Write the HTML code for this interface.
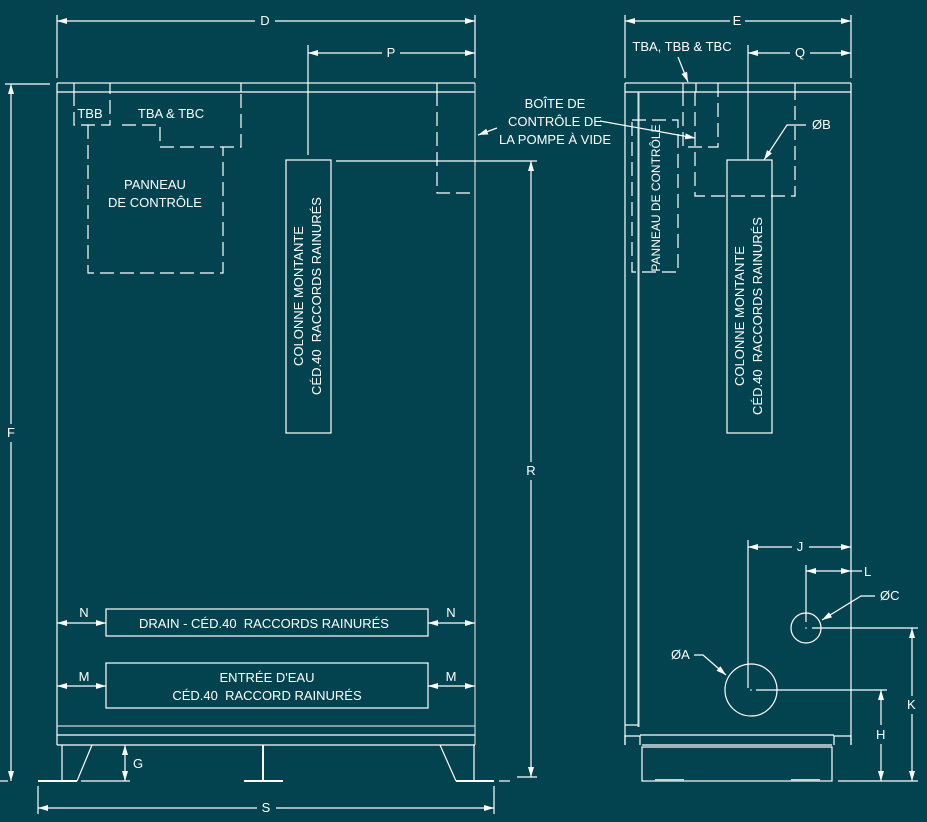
<!DOCTYPE html>
<html><head><meta charset="utf-8"><style>
html,body{margin:0;padding:0;background:#03434f;}
svg{display:block;}
text{font-family:"Liberation Sans",sans-serif;font-size:13px;fill:#fff;white-space:pre;}
</style></head><body>
<svg width="927" height="822" viewBox="0 0 927 822" xmlns="http://www.w3.org/2000/svg" xml:space="preserve">
<defs>
<marker id="a" viewBox="0 0 10 6" refX="10" refY="3" markerWidth="10" markerHeight="6" orient="auto-start-reverse" markerUnits="userSpaceOnUse"><path d="M0,0L10,3L0,6z" fill="#fff"/></marker>
</defs>
<rect width="927" height="822" fill="#03434f"/>
<g stroke="#fff" stroke-width="1.2" fill="none">
<line x1="57" y1="83" x2="475" y2="83" stroke="#c8d4d6" stroke-width="1.5"/>
<line x1="57" y1="92" x2="475" y2="92"/>
<line x1="57" y1="83" x2="57" y2="745"/>
<line x1="475" y1="83" x2="475" y2="745" stroke="#c8d4d6"/>
<line x1="57" y1="726" x2="475" y2="726" stroke="#c8d4d6"/>
<line x1="57" y1="735" x2="475" y2="735"/>
<line x1="57" y1="745" x2="475" y2="745"/>
<line x1="74" y1="83" x2="74" y2="92"/><line x1="110" y1="83" x2="110" y2="92"/><line x1="241" y1="83" x2="241" y2="92"/><line x1="437" y1="83" x2="437" y2="92"/>
<line x1="62" y1="745" x2="62" y2="781"/><line x1="38" y1="781" x2="77" y2="781" stroke-width="2"/>
<line x1="92" y1="745" x2="77" y2="781"/><line x1="81" y1="781" x2="130" y2="781"/>
<line x1="263" y1="745" x2="263" y2="781" stroke-width="2"/><line x1="244" y1="781" x2="283" y2="781" stroke-width="2"/>
<line x1="440" y1="745" x2="456" y2="781"/><line x1="456" y1="781" x2="494" y2="781" stroke-width="2"/><line x1="474" y1="745" x2="474" y2="781"/>
<line x1="0" y1="781" x2="8" y2="781"/><line x1="499" y1="781" x2="510" y2="781"/>
<g stroke-dasharray="14,6">
<path d="M74,92 V125 H110 V92"/>
<path d="M122,125 H160 V147 H241 V92"/>
<path d="M88,125 V273 H223 V147"/>
<path d="M437,92 V193 H475"/>
</g>
<rect x="286" y="160" width="45" height="273"/>
<line x1="308" y1="45" x2="308" y2="155"/>
<line x1="336" y1="161" x2="537" y2="161"/>
<rect x="106" y="609" width="322" height="27"/>
<rect x="106" y="663" width="322" height="45"/>
<line x1="57" y1="15" x2="57" y2="78"/><line x1="475" y1="15" x2="475" y2="78"/>
<line x1="57" y1="21" x2="255" y2="21" marker-start="url(#a)"/><line x1="275" y1="21" x2="475" y2="21" marker-end="url(#a)"/>
<line x1="308" y1="53" x2="382" y2="53" marker-start="url(#a)"/><line x1="400" y1="53" x2="475" y2="53" marker-end="url(#a)"/>
<line x1="5" y1="84" x2="50" y2="84"/>
<line x1="11" y1="84" x2="11" y2="424" marker-start="url(#a)"/><line x1="11" y1="442" x2="11" y2="781" marker-end="url(#a)"/>
<line x1="531" y1="161" x2="531" y2="462" marker-start="url(#a)"/><line x1="531" y1="480" x2="531" y2="777" marker-end="url(#a)"/>
<line x1="517" y1="777" x2="537" y2="777"/>
<line x1="57" y1="623" x2="106" y2="623" marker-start="url(#a)" marker-end="url(#a)"/>
<line x1="428" y1="623" x2="475" y2="623" marker-start="url(#a)" marker-end="url(#a)"/>
<line x1="57" y1="686" x2="106" y2="686" marker-start="url(#a)" marker-end="url(#a)"/>
<line x1="428" y1="686" x2="475" y2="686" marker-start="url(#a)" marker-end="url(#a)"/>
<line x1="125" y1="745" x2="125" y2="781" marker-start="url(#a)" marker-end="url(#a)"/>
<line x1="38" y1="786" x2="38" y2="814"/><line x1="494" y1="786" x2="494" y2="814"/>
<line x1="38" y1="808" x2="257" y2="808" marker-start="url(#a)"/><line x1="276" y1="808" x2="494" y2="808" marker-end="url(#a)"/>
<line x1="497" y1="128" x2="478" y2="135" marker-end="url(#a)"/>
<line x1="600" y1="121" x2="695" y2="138" marker-end="url(#a)"/>
<line x1="625" y1="83" x2="851" y2="83" stroke="#c8d4d6" stroke-width="1.5"/>
<line x1="625" y1="92" x2="851" y2="92"/>
<line x1="625" y1="83" x2="625" y2="745"/>
<line x1="851" y1="83" x2="851" y2="745"/>
<line x1="638.5" y1="92" x2="638.5" y2="727" stroke="#d8e0e2" stroke-width="2"/>
<line x1="625" y1="725" x2="638" y2="725"/>
<line x1="683" y1="83" x2="683" y2="92"/><line x1="696" y1="83" x2="696" y2="92"/><line x1="718" y1="83" x2="718" y2="92"/><line x1="795" y1="83" x2="795" y2="92"/>
<g stroke-dasharray="14,6">
<path d="M632,120 H678 V272 H632 Z"/>
<path d="M683,92 V147 H718 V92"/>
<path d="M695,92 V196 H795 V92"/>
</g>
<rect x="727" y="160" width="45" height="273"/>
<line x1="748" y1="45" x2="748" y2="160"/>
<path d="M625,745 V736 H640 V745"/><path d="M851,745 V736 H834 V745"/>
<line x1="640" y1="735" x2="834" y2="735"/>
<line x1="642" y1="745" x2="832" y2="745"/>
<rect x="642" y="747" width="190" height="34"/>
<line x1="655" y1="780" x2="684" y2="780" stroke="#c8d4d6" stroke-width="2"/>
<line x1="791" y1="780" x2="820" y2="780" stroke="#c8d4d6" stroke-width="2"/>
<line x1="625" y1="15" x2="625" y2="78"/><line x1="851" y1="15" x2="851" y2="78"/>
<line x1="625" y1="21" x2="730" y2="21" marker-start="url(#a)"/><line x1="745" y1="21" x2="851" y2="21" marker-end="url(#a)"/>
<line x1="748" y1="53" x2="790" y2="53" marker-start="url(#a)"/><line x1="810" y1="53" x2="851" y2="53" marker-end="url(#a)"/>
<line x1="678" y1="57" x2="688" y2="82" marker-end="url(#a)"/>
<path d="M806,125 H787 L764,160" marker-end="url(#a)"/>
<line x1="748" y1="540" x2="748" y2="688"/>
<line x1="748" y1="547" x2="792" y2="547" marker-start="url(#a)"/><line x1="809" y1="547" x2="851" y2="547" marker-end="url(#a)"/>
<line x1="806" y1="565" x2="806" y2="622"/>
<line x1="806" y1="571" x2="851" y2="571" marker-start="url(#a)" marker-end="url(#a)"/><line x1="851" y1="571" x2="862" y2="571"/>
<circle cx="806" cy="628" r="15"/>
<circle cx="751" cy="690" r="26"/>
<path d="M875,596 H861 L822,620" marker-end="url(#a)"/>
<path d="M694,655 H703 L726,675" marker-end="url(#a)"/>
<line x1="812" y1="628" x2="918" y2="628"/>
<line x1="756" y1="690" x2="887" y2="690"/>
<line x1="838" y1="781" x2="918" y2="781"/>
<line x1="912" y1="628" x2="912" y2="696" marker-start="url(#a)"/><line x1="912" y1="714" x2="912" y2="781" marker-end="url(#a)"/>
<line x1="881" y1="690" x2="881" y2="725" marker-start="url(#a)"/><line x1="881" y1="744" x2="881" y2="781" marker-end="url(#a)"/>
</g>
<circle cx="806" cy="628" r="0.8" fill="#fff"/><circle cx="751" cy="690" r="0.8" fill="#fff"/>
<g text-anchor="middle">
<text x="265" y="25">D</text>
<text x="391" y="57">P</text>
<text x="11" y="437">F</text>
<text x="531" y="475">R</text>
<text x="90" y="118">TBB</text>
<text x="171" y="118">TBA &amp; TBC</text>
<text x="155" y="189">PANNEAU</text>
<text x="155" y="207">DE CONTRÔLE</text>
<text x="555" y="108">BOÎTE DE</text>
<text x="555" y="126">CONTRÔLE DE</text>
<text x="555" y="144">LA POMPE À VIDE</text>
<text x="264" y="628">DRAIN - CÉD.40  RACCORDS RAINURÉS</text>
<text x="267" y="682">ENTRÉE D'EAU</text>
<text x="267" y="700">CÉD.40  RACCORD RAINURÉS</text>
<text x="84" y="617">N</text><text x="451" y="617">N</text>
<text x="84" y="681">M</text><text x="451" y="681">M</text>
<text x="138" y="768">G</text>
<text x="266" y="812">S</text>
<text transform="translate(303,296) rotate(-90)">COLONNE MONTANTE</text>
<text transform="translate(321,296) rotate(-90)">CÉD.40  RACCORDS RAINURÉS</text>
<text transform="translate(744,316) rotate(-90)">COLONNE MONTANTE</text>
<text transform="translate(762,316) rotate(-90)">CÉD.40  RACCORDS RAINURÉS</text>
<text transform="translate(660,198) rotate(-90)" style="font-size:12px">PANNEAU DE CONTRÔLE</text>
<text x="737" y="25">E</text>
<text x="800" y="57">Q</text>
<text x="682" y="51">TBA, TBB &amp; TBC</text>
<text x="800" y="551">J</text>
</g>
<text x="812" y="129">ØB</text>
<text x="864" y="576">L</text>
<text x="880" y="600">ØC</text>
<text x="671" y="659">ØA</text>
<text x="907" y="709">K</text>
<text x="876" y="739">H</text>
</svg>
</body></html>
